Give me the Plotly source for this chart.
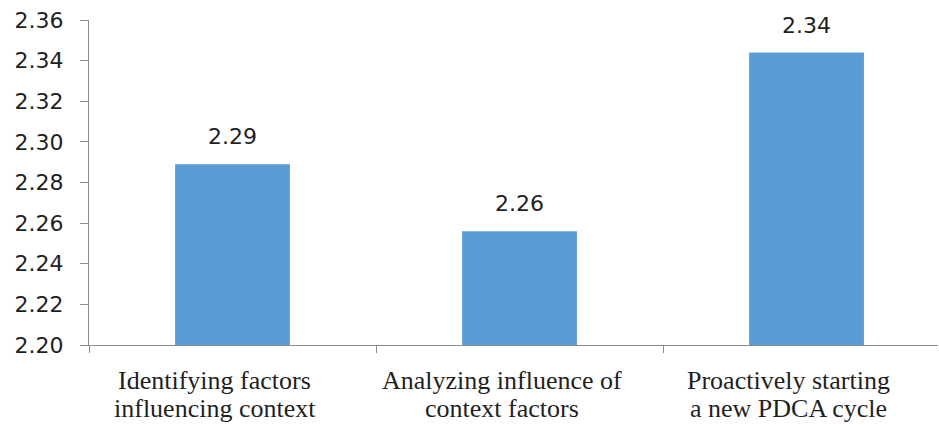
import plotly.graph_objects as go

# Chart data
categories = [
    "Identifying factors\ninfluencing context",
    "Analyzing influence of\ncontext factors",
    "Proactively starting\na new PDCA cycle",
]
scores = [2.289, 2.256, 2.344]
y_ticks = [2.20, 2.22, 2.24, 2.26, 2.28, 2.30, 2.32, 2.34, 2.36]

BAR_COLOR = "#5B9BD5"
AXIS_COLOR = "#8c8c8c"
TEXT_COLOR = "#1f1f1f"

x_idx = list(range(len(categories)))

fig = go.Figure()
fig.add_trace(
    go.Bar(
        x=x_idx,
        y=scores,
        base=0,
        width=0.4,
        marker=dict(color=BAR_COLOR, line=dict(width=0)),
        hoverinfo="skip",
    )
)

# Value labels above the bars
for i, v in zip(x_idx, scores):
    fig.add_annotation(
        x=i, y=v, xref="x", yref="y",
        text=f"{v:.2f}",
        showarrow=False,
        yanchor="bottom",
        yshift=13,
        font=dict(family="DejaVu Sans", size=22, color=TEXT_COLOR),
    )

# Two-line category labels under the axis
for i, cat in zip(x_idx, categories):
    for k, line in enumerate(cat.split("\n")):
        fig.add_annotation(
            x=i, y=0, xref="x", yref="paper",
            text=line,
            showarrow=False,
            yanchor="middle",
            xshift=-18,
            yshift=-35 - 28 * k,
            font=dict(family="Liberation Serif", size=26, color=TEXT_COLOR),
        )

fig.update_layout(
    width=939,
    height=425,
    margin=dict(l=89, r=1, t=20, b=80),
    paper_bgcolor="white",
    plot_bgcolor="white",
    showlegend=False,
    xaxis=dict(
        range=[-0.5, 2.458],
        tickmode="array",
        tickvals=[-0.5, 0.5, 1.5],
        ticktext=["", "", ""],
        showline=True,
        linecolor=AXIS_COLOR,
        linewidth=1,
        ticks="outside",
        ticklen=7,
        tickcolor=AXIS_COLOR,
        showgrid=False,
        zeroline=False,
        fixedrange=True,
    ),
    yaxis=dict(
        range=[2.20, 2.36],
        tickmode="array",
        tickvals=y_ticks,
        ticktext=[f"{t:.2f}" for t in y_ticks],
        showline=True,
        linecolor=AXIS_COLOR,
        linewidth=1,
        ticks="outside",
        ticklen=8,
        tickcolor=AXIS_COLOR,
        ticklabelstandoff=12,
        tickfont=dict(family="DejaVu Sans", size=22, color=TEXT_COLOR),
        showgrid=False,
        zeroline=False,
        fixedrange=True,
    ),
)

fig.write_html("out.html", config={"displayModeBar": False})
